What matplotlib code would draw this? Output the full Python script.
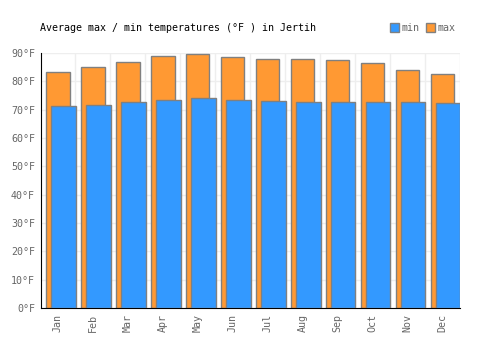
import matplotlib.pyplot as plt
import numpy as np

months = ["Jan", "Feb", "Mar", "Apr", "May", "Jun", "Jul", "Aug", "Sep", "Oct", "Nov", "Dec"]
t_max = [83.2, 85.0, 86.7, 88.8, 89.5, 88.5, 87.8, 87.8, 87.4, 86.4, 83.9, 82.5]
t_min = [71.2, 71.5, 72.6, 73.3, 74.0, 73.3, 73.0, 72.6, 72.6, 72.6, 72.6, 72.3]
y_ticks = [0, 10, 20, 30, 40, 50, 60, 70, 80, 90]

plt.rcParams["font.family"] = "DejaVu Sans Mono"

fig = plt.figure(figsize=(5, 3.5), dpi=100)
ax = fig.add_axes([0.081, 0.12, 0.839, 0.729])

x = np.arange(len(months))
ax.bar(x, t_max, width=0.667, color="#FF9933", edgecolor="#808080", linewidth=1, zorder=2, label="max")
ax.bar(x + 0.155, t_min, width=0.71, color="#3399FF", edgecolor="#808080", linewidth=1, zorder=3, label="min")

ax.set_xlim(-0.5, len(months) - 0.5)
ax.set_ylim(0, 90)
ax.set_yticks(y_ticks)
ax.set_yticklabels([f"{v}°F" for v in y_ticks], fontsize=7.2, color="#666666")
ax.set_xticks(x)
ax.set_xticklabels(months, rotation=90, fontsize=7.2, color="#666666")
ax.set_xticks(x + 0.5, minor=True)
ax.tick_params(axis="both", which="both", length=0, pad=4)
ax.grid(axis="y", color="#eeeeee", linewidth=1, zorder=0)
ax.grid(axis="x", which="minor", color="#eeeeee", linewidth=1, zorder=0)
ax.set_axisbelow(True)

for s in ["top", "right"]:
    ax.spines[s].set_visible(False)
ax.spines["left"].set_color("black")
ax.spines["bottom"].set_color("black")

fig.text(0.08, 0.92, "Average max / min temperatures (°F ) in Jertih", fontsize=7.2, color="black", va="center")

handles, labels = ax.get_legend_handles_labels()
leg = fig.legend(handles[::-1], labels[::-1], loc="center right", bbox_to_anchor=(0.93, 0.92), ncol=2,
                 frameon=False, fontsize=7.2, handlelength=0.9, handleheight=0.9, handletextpad=0.3,
                 columnspacing=0.6, labelcolor="#666666")

fig.savefig("out.png", dpi=100)
